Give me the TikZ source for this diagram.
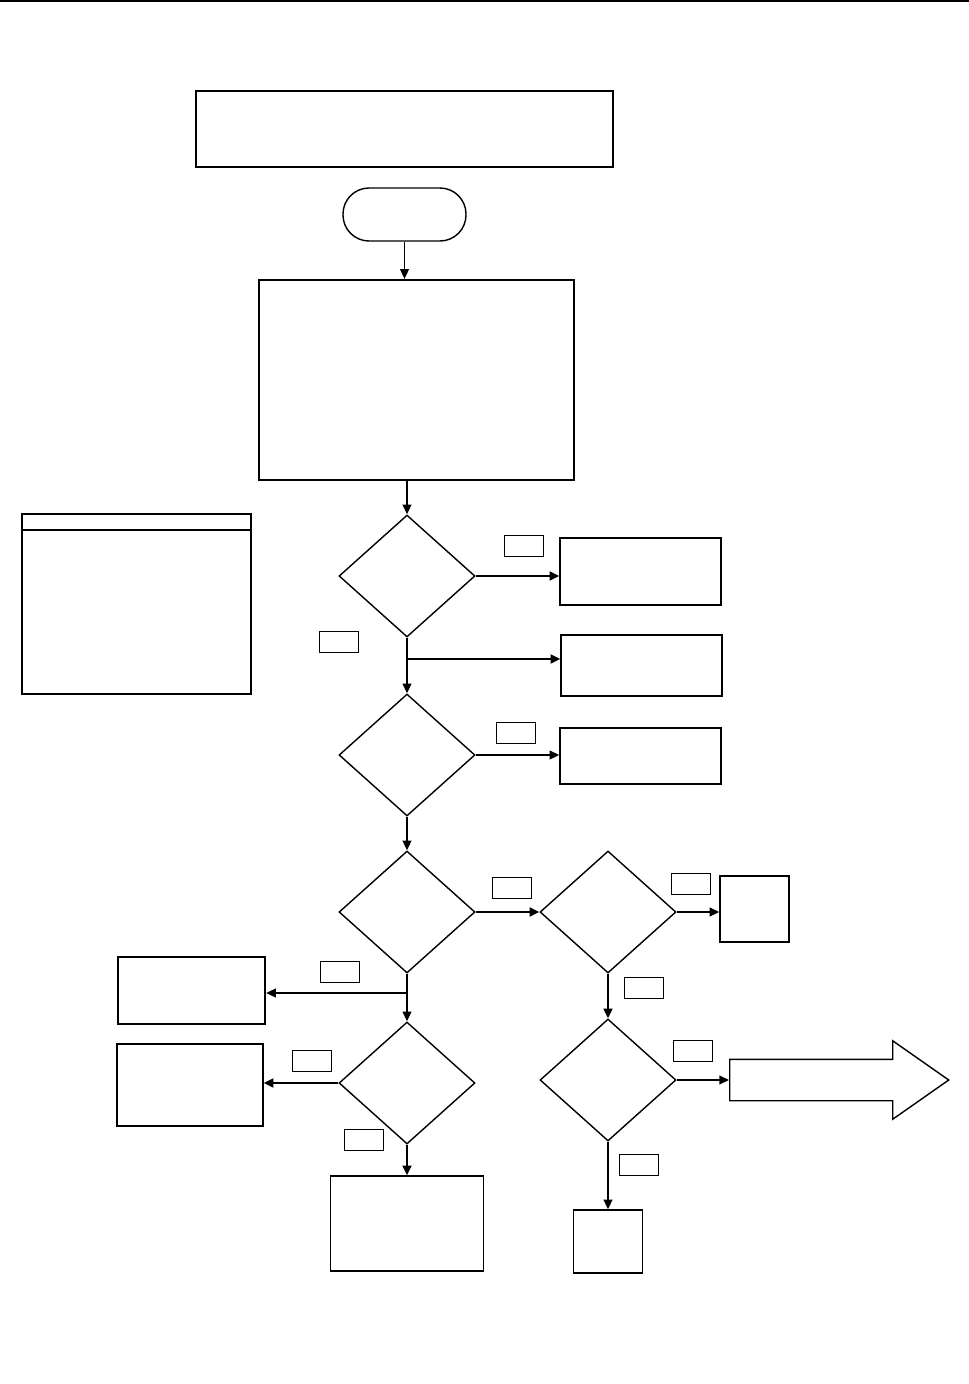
\documentclass[tikz,border=0pt]{standalone}
\usepackage{tikz}
\usetikzlibrary{shapes.geometric,shapes.arrows,arrows.meta}

\begin{document}
\begin{tikzpicture}[>={Triangle[length=5.5pt,width=5pt]}, line width=0.8pt,
		box/.style={rectangle, draw, inner sep=0pt},
		boxb/.style={box, line width=1.3pt},
		decision/.style={diamond, draw, inner sep=0pt, minimum width=2.72cm, minimum height=2.44cm},
		tag/.style={rectangle, draw, line width=0.5pt, inner sep=0pt, minimum width=0.78cm, minimum height=0.42cm},
		flow/.style={->, line width=0.8pt},
		flowb/.style={->, line width=1.4pt}]
		\useasboundingbox (0,0) rectangle (19.38,-27.68);
		\draw[line width=1.2pt] (0,-0.02) -- (19.38,-0.02);
		% ---------------- header, start, main block ----------------
		\node[box, minimum width=8.34cm, minimum height=1.52cm] (title) at (8.09,-2.58) {};
		\node[box, rounded corners=0.52cm, minimum width=2.46cm, minimum height=1.06cm] (start) at (8.09,-4.29) {};
		\node[boxb, minimum width=6.30cm, minimum height=4.00cm] (main) at (8.33,-7.60) {};
		\draw[flow] (start) -- (start.south |- main.north);
		% legend
		\node[box, minimum width=4.58cm, minimum height=3.60cm] (legend) at (2.73,-12.08) {};
		\draw[line width=1.3pt] ([yshift=-0.34cm]legend.north west) -- ([yshift=-0.34cm]legend.north east);
		% ---------------- first column of decisions ----------------
		\node[decision] (d1) at (8.14,-11.52) {};
		\node[decision] (d2) at (8.14,-15.10) {};
		\node[decision] (d3) at (8.14,-18.24) {};
		\node[decision] (d5) at (8.14,-21.66) {};
		\draw[flow] (d1 |- main.south) -- (d1);
		\node[box, minimum width=3.22cm, minimum height=1.34cm] (r1) at (12.81,-11.43) {};
		\node[box, minimum width=3.22cm, minimum height=1.22cm] (r2) at (12.83,-13.31) {};
		\node[box, minimum width=3.22cm, minimum height=1.12cm] (r3) at (12.81,-15.12) {};
		\node[tag] (t1) at (10.47,-10.91) {};
		\node[tag] (t2) at (6.77,-12.83) {};
		\node[tag] (t3) at (10.31,-14.65) {};
		\draw[flowb] (d1.east) -- (d1.east -| r1.west);
		\draw[flow] (d1.south) -- (d2.north);
		\coordinate (br1) at (8.14,-13.18);
		\draw[flowb] (br1) -- (br1 -| r2.west);
		\draw[flow] (d2.east) -- (d2.east -| r3.west);
		\draw[flow] (d2.south) -- (d3.north);
		% ---------------- lower part ----------------
		\node[decision] (d4) at (12.16,-18.24) {};
		\node[decision] (d6) at (12.16,-21.60) {};
		\node[box, minimum width=1.38cm, minimum height=1.32cm] (r4) at (15.09,-18.18) {};
		\node[boxb, minimum width=2.94cm, minimum height=1.34cm] (l1) at (3.83,-19.81) {};
		\node[box, minimum width=2.92cm, minimum height=1.64cm] (l2) at (3.80,-21.70) {};
		\node[box, minimum width=3.06cm, minimum height=1.90cm] (b1) at (8.14,-24.47) {};
		\node[box, minimum width=1.38cm, minimum height=1.26cm] (b2) at (12.16,-24.83) {};
		\node[single arrow, draw, anchor=west, inner xsep=0pt, inner ysep=0.4cm, minimum height=4.38cm, minimum width=1.54cm,
			single arrow head extend=0.37cm, single arrow tip angle=70] (next) at (14.58,-21.60) {};
		\node[tag] (t4) at (10.23,-17.76) {};
		\node[tag] (t5) at (13.81,-17.67) {};
		\node[tag] (t6) at (12.87,-19.75) {};
		\node[tag] (t7) at (6.79,-19.43) {};
		\node[tag] (t8) at (6.23,-21.22) {};
		\node[tag] (t9) at (7.27,-22.79) {};
		\node[tag] (t10) at (13.85,-21.01) {};
		\node[tag] (t11) at (12.77,-23.29) {};
		\draw[flowb] (d3.east) -- (d4.west);
		\draw[flow] (d4.east) -- (d4.east -| r4.west);
		\draw[flowb] (d4.south) -- (d6.north);
		\draw[flow] (d3.south) -- (d5.north);
		\coordinate (br2) at (8.14,-19.86);
		\draw[flow] (br2) -- (br2 -| l1.east);
		\draw[flowb] (d5.west) -- (d5.west -| l2.east);
		\draw[flowb] (d5.south) -- (b1.north);
		\draw[flow] (d6.east) -- (next.west);
		\draw[flow] (d6.south) -- (b2.north);
	\end{tikzpicture}
\end{document}
